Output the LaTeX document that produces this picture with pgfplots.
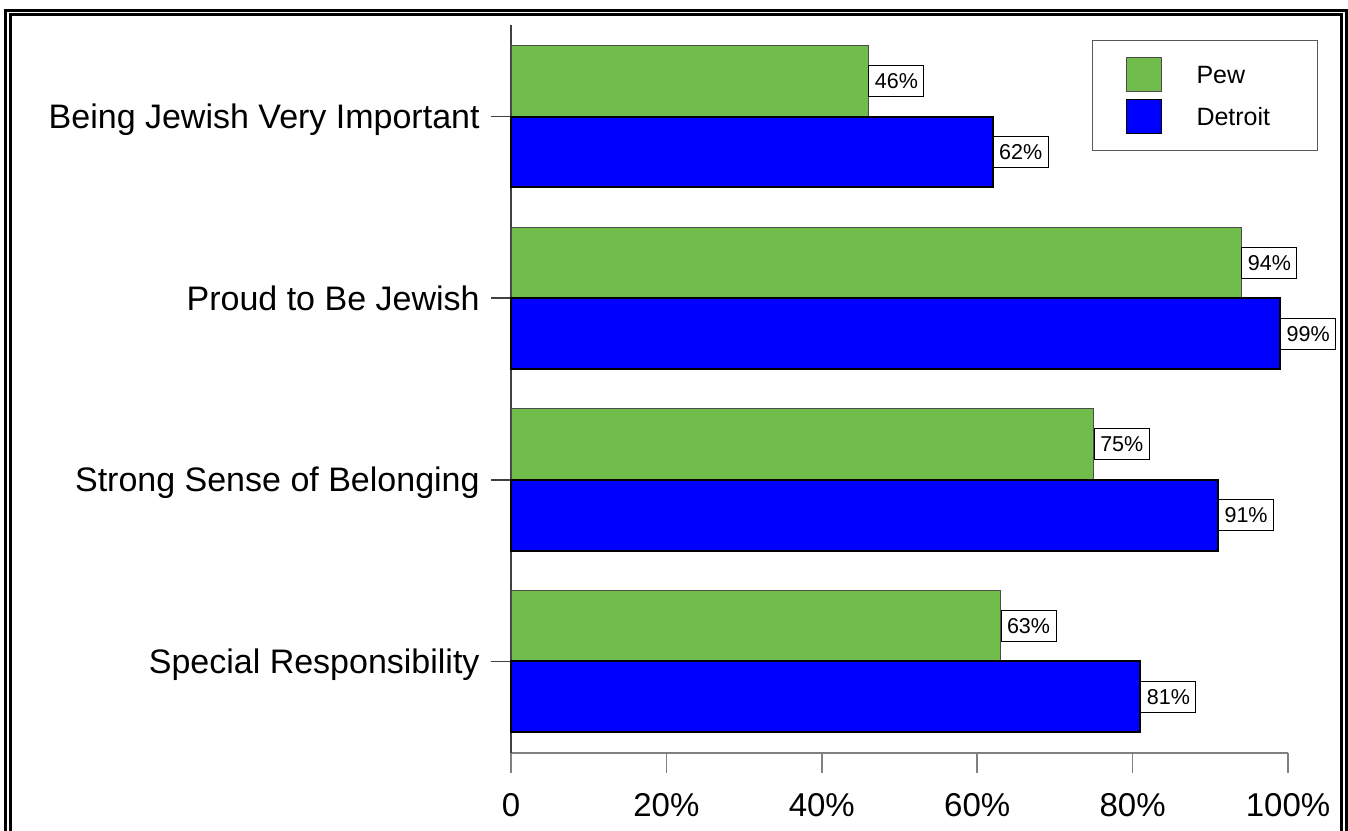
\documentclass[border=0pt]{standalone}
\usepackage{fontspec}
\setmainfont{Liberation Sans}
\usepackage{pgfplots}
\pgfplotsset{compat=1.18}
\definecolor{pewgreen}{RGB}{112,189,76}
\definecolor{detblue}{RGB}{0,0,255}
\begin{document}
\begin{tikzpicture}
\useasboundingbox (0,0) rectangle (674bp,415.5bp);
\begin{scope}
\clip (0,0) rectangle (674bp,415.5bp);
\draw[line width=1.5bp] (2.75bp,-10bp) rectangle (673.25bp,410.25bp);
\draw[line width=1.5bp] (5.25bp,-10bp) rectangle (670.5bp,408.25bp);
\end{scope}
\begin{axis}[
  at={(255.5bp,39bp)}, anchor=south west,
  scale only axis, width=388.5bp, height=364bp,
  xbar, bar width=0.39,
  xmin=0, xmax=100, ymin=-0.505, ymax=3.505,
  axis x line*=bottom, axis y line*=left,
  x axis line style={draw=gray, line width=0.75bp},
  y axis line style={draw=black!75, line width=0.75bp},
  tick align=outside, major tick length=10bp,
  xtick={0,20,40,60,80,100},
  xticklabels={0,20\%,40\%,60\%,80\%,100\%},
  x tick style={draw=gray, line width=0.75bp},
  y tick style={draw=black!75, line width=0.75bp},
  ytick={0,1,2,3},
  yticklabels={Special Responsibility, Strong Sense of Belonging, Proud to Be Jewish, Being Jewish Very Important},
  xticklabel style={font=\fontsize{16.5bp}{19bp}\selectfont, anchor=north, inner sep=0pt, yshift=-10bp},
  yticklabel style={font=\fontsize{17bp}{20bp}\selectfont, anchor=base east, inner sep=0pt, xshift=-5.5bp, yshift=-6bp},
  clip=false,
  point meta=x,
  nodes near coords={\pgfmathprintnumber[assume math mode=true]{\pgfplotspointmeta}\%},
  nodes near coords style={anchor=west, draw=black, line width=0.5bp, fill=white, text=black, font=\fontsize{10.75bp}{12bp}\selectfont, inner xsep=3bp, inner ysep=0pt, minimum height=15.5bp},
  legend cell align=left,
  legend style={at={(1.0386,0.9794)}, anchor=north east, draw=gray!70!black, line width=0.5bp, fill=white,
    inner xsep=16.5bp, inner ysep=8.25bp, row sep=3.5bp, font=\fontsize{12.5bp}{15bp}\selectfont,
    nodes={inner sep=0pt},
    /tikz/every odd column/.append style={column sep=17.5bp}},
]
\addplot[fill=pewgreen, draw=black!70, line width=0.5bp, bar shift=0.195,
  legend image code/.code={\draw[fill=pewgreen, draw=black!70, line width=0.5bp] (0bp,-8.5bp) rectangle (17.5bp,8.5bp);}]
  coordinates {(46,3) (94,2) (75,1) (63,0)};
\addlegendentry{\makebox[44bp][l]{\raisebox{-1.75bp}{Pew}}}
\addplot[fill=detblue, draw=black, line width=1bp, bar shift=-0.195,
  legend image code/.code={\draw[fill=detblue, draw=black, line width=0.5bp] (0bp,-8.5bp) rectangle (17.5bp,8.5bp);}]
  coordinates {(62,3) (99,2) (91,1) (81,0)};
\addlegendentry{\makebox[44bp][l]{\raisebox{-1.75bp}{Detroit}}}
\end{axis}
\end{tikzpicture}
\end{document}
